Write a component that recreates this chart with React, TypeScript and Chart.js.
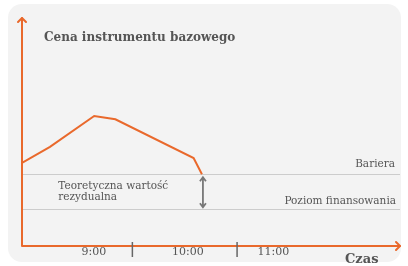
import React, { useEffect, useRef } from "react";
import { Chart, registerables } from "chart.js";

Chart.register(...registerables);

// Data (x: time position on a 0..100 axis, y: price on a 0..100 axis)
const priceX = [0, 7.4, 19.1, 24.7, 45.4, 47.6];
const priceY = [36.5, 43.5, 57, 55.6, 38.6, 31.5];
const barrierLevel = 31.5;
const fundingLevel = 16.1;
const timeLabels = ["9:00", "10:00", "11:00"];
const timeLabelPos = [19.0, 43.9, 66.5];
const tickMarkPos = [29.2, 56.9];
const titleText = "Cena instrumentu bazowego";
const xAxisTitle = "Czas";
const barrierLabel = "Bariera";
const fundingLabel = "Poziom finansowania";
const residualLabel = ["Teoretyczna wartość", "rezydualna"];

const ORANGE = "#e9692c";
const TEXT = "#555555";
const SERIF = '"DejaVu Serif", serif';

const decor = {
  id: "decor",
  beforeDraw(chart: any) {
    const ctx = chart.ctx as CanvasRenderingContext2D;
    ctx.save();
    ctx.fillStyle = "#ffffff";
    ctx.fillRect(0, 0, chart.width, chart.height);
    ctx.fillStyle = "#f3f3f3";
    ctx.beginPath();
    (ctx as any).roundRect(8, 4, 393, 258, 14);
    ctx.fill();

    const xs = chart.scales.x;
    const ys = chart.scales.y;
    const a = chart.chartArea;

    // reference lines
    ctx.strokeStyle = "#cccccc";
    ctx.lineWidth = 1;
    [barrierLevel, fundingLevel].forEach((v) => {
      const y = Math.round(ys.getPixelForValue(v)) + 0.5;
      ctx.beginPath();
      ctx.moveTo(a.left, y);
      ctx.lineTo(a.right, y);
      ctx.stroke();
    });

    // labels for lines
    ctx.fillStyle = TEXT;
    ctx.font = `10.5px ${SERIF}`;
    ctx.textAlign = "right";
    ctx.textBaseline = "middle";
    ctx.fillText(barrierLabel, a.right - 5, ys.getPixelForValue(barrierLevel) - 10);
    ctx.fillText(fundingLabel, a.right - 4, ys.getPixelForValue(fundingLevel) - 8);

    ctx.textAlign = "left";
    const yb = ys.getPixelForValue(barrierLevel);
    ctx.fillText(residualLabel[0], xs.getPixelForValue(9.6), yb + 12);
    ctx.fillText(residualLabel[1], xs.getPixelForValue(9.6), yb + 23);

    // title
    ctx.font = `bold 12px ${SERIF}`;
    ctx.fillText(titleText, 44, 38);
    ctx.restore();
  },
  afterDraw(chart: any) {
    const ctx = chart.ctx as CanvasRenderingContext2D;
    const xs = chart.scales.x;
    const ys = chart.scales.y;
    const a = chart.chartArea;
    ctx.save();

    // double arrow between barrier and funding
    const lastX = xs.getPixelForValue(priceX[priceX.length - 1]) + 1;
    const yTop = ys.getPixelForValue(barrierLevel) + 3;
    const yBot = ys.getPixelForValue(fundingLevel) - 2;
    ctx.strokeStyle = "#777777";
    ctx.lineWidth = 1.8;
    ctx.beginPath();
    ctx.moveTo(lastX, yTop);
    ctx.lineTo(lastX, yBot);
    ctx.moveTo(lastX - 3, yTop + 4);
    ctx.lineTo(lastX, yTop);
    ctx.lineTo(lastX + 3, yTop + 4);
    ctx.moveTo(lastX - 3, yBot - 4);
    ctx.lineTo(lastX, yBot);
    ctx.lineTo(lastX + 3, yBot - 4);
    ctx.stroke();

    // axes
    ctx.strokeStyle = ORANGE;
    ctx.lineWidth = 2;
    ctx.lineCap = "round";
    ctx.lineJoin = "round";
    ctx.beginPath();
    ctx.moveTo(a.left, a.top);
    ctx.lineTo(a.left, a.bottom);
    ctx.lineTo(a.right, a.bottom);
    ctx.stroke();
    ctx.beginPath();
    ctx.moveTo(a.left - 4, a.top + 4);
    ctx.lineTo(a.left, a.top);
    ctx.lineTo(a.left + 4, a.top + 4);
    ctx.moveTo(a.right - 4, a.bottom - 4);
    ctx.lineTo(a.right, a.bottom);
    ctx.lineTo(a.right - 4, a.bottom + 4);
    ctx.stroke();

    // tick marks
    ctx.strokeStyle = "#666666";
    ctx.lineWidth = 1.5;
    ctx.lineCap = "butt";
    tickMarkPos.forEach((v) => {
      const x = xs.getPixelForValue(v);
      ctx.beginPath();
      ctx.moveTo(x, a.bottom - 4);
      ctx.lineTo(x, a.bottom + 11);
      ctx.stroke();
    });

    // tick labels
    ctx.fillStyle = TEXT;
    ctx.font = `11px ${SERIF}`;
    ctx.textAlign = "center";
    ctx.textBaseline = "middle";
    timeLabels.forEach((t, i) => {
      ctx.fillText(t, xs.getPixelForValue(timeLabelPos[i]), a.bottom + 6);
    });

    ctx.font = `bold 13px ${SERIF}`;
    ctx.textAlign = "left";
    ctx.fillText(xAxisTitle, 345, a.bottom + 14);
    ctx.restore();
  },
};

export default function App() {
  const ref = useRef<HTMLCanvasElement>(null);
  useEffect(() => {
    if (!ref.current) return;
    const chart = new Chart(ref.current, {
      type: "line",
      data: {
        datasets: [
          {
            data: priceX.map((x, i) => ({ x, y: priceY[i] })),
            borderColor: ORANGE,
            borderWidth: 2,
            pointRadius: 0,
            tension: 0,
            fill: false,
          },
        ],
      },
      options: {
        responsive: false,
        animation: false,
        events: [],
        layout: { padding: { left: 22, right: 8, top: 18, bottom: 20 } },
        plugins: { legend: { display: false }, tooltip: { enabled: false } },
        scales: {
          x: { type: "linear", min: 0, max: 100, display: false },
          y: { type: "linear", min: 0, max: 100, display: false },
        },
      },
      plugins: [decor],
    });
    return () => chart.destroy();
  }, []);
  return (
    <div style={{ position: "fixed", left: 0, top: 0, width: 408, height: 266 }}>
      <canvas ref={ref} width={408} height={266} style={{ width: 408, height: 266 }} />
    </div>
  );
}
